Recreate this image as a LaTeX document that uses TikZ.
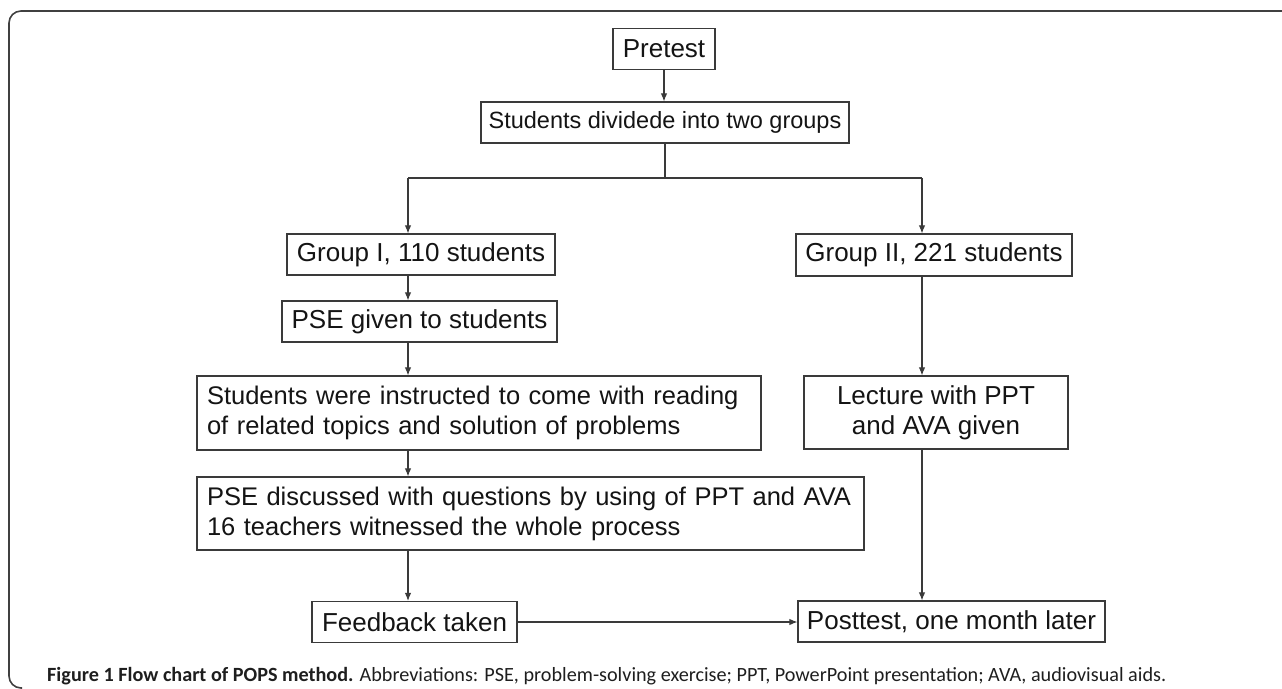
\documentclass[tikz,border=0pt]{standalone}
\usepackage{fontspec}
\setmainfont{Liberation Sans}
\newfontfamily\capfont{Carlito}
\usetikzlibrary{arrows.meta}
\definecolor{boxc}{HTML}{3A3A3A}
\definecolor{txt}{HTML}{141414}
\definecolor{framec}{HTML}{404040}
\definecolor{capc}{HTML}{1E1E1E}
\newcommand{\flowfont}{\fontsize{26}{30}\selectfont}
\newcommand{\flowfontlong}{\fontsize{25.5}{30}\selectfont}
\tikzset{
  box/.style={draw=boxc, line width=1.2pt, fill=white, inner sep=0pt,
    minimum height=41pt, font=\flowfont, text=txt},
  lbox/.style={box, inner xsep=10pt, align=left, font=\flowfontlong},
  arr/.style={draw=boxc, line width=1.1pt, -{Latex[length=8pt,width=6.5pt]}},
  ln/.style={draw=boxc, line width=1.1pt},
  framestyle/.style={draw=framec, line width=1.6pt}
}
\begin{document}
\begin{tikzpicture}[x=1pt,y=1pt]
\useasboundingbox (0,0) rectangle (1282,-688);
% outer frame
\draw[framestyle] (1282,-11) -- (21,-11) arc[start angle=90, end angle=180, radius=12] -- (9,-676) arc[start angle=180, end angle=270, radius=12] -- (22,-688);

% nodes
\node[box, minimum width=102pt] (pretest) at (664,-49) {Pretest};
\node[box, minimum width=368pt, font=\fontsize{23.5}{28}\selectfont] (divide) at (665,-122.5) {Students dividede into two groups};
\node[box, minimum width=268pt] (g1) at (421,-254.5) {Group I, 110 students};
\node[box, minimum width=276pt, minimum height=42pt] (g2) at (934,-255) {Group II, 221 students};
\node[box, minimum width=275pt] (pse) at (419.5,-321.5) {PSE given to students};
\node[lbox, text width=544pt, minimum height=74pt] (instr) at (479,-413)
  {\mbox{Students were instructed to come with reading}\\\mbox{of related topics and solution of problems}};
\node[box, align=center, minimum width=264pt, minimum height=73pt] (lect) at (936,-412.5)
  {Lecture with PPT\\and AVA given};
\node[lbox, text width=647pt, minimum height=73pt] (disc) at (530.5,-513.5)
  {\mbox{PSE discussed with questions by using of PPT and AVA}\\\mbox{16 teachers witnessed the whole process}};
\node[box, minimum width=205pt] (feed) at (414.5,-622) {Feedback taken};
\node[box, minimum width=307pt] (post) at (951.5,-621.5) {Posttest, one month later};

% helper coordinates
\coordinate (colL) at (408,0);
\coordinate (colR) at (922,0);
\coordinate (splitL) at (408,-178);
\coordinate (splitR) at (922,-178);

% connectors
\draw[arr] (pretest.south) -- (pretest.south |- divide.north);
\draw[ln] (divide.south) -- (divide.south |- splitL);
\draw[ln] (splitL) -- (splitR);
\draw[arr] (splitL) -- (splitL |- g1.north);
\draw[arr] (splitR) -- (splitR |- g2.north);
\draw[arr] (g1.south -| colL) -- (pse.north -| colL);
\draw[arr] (pse.south -| colL) -- (instr.north -| colL);
\draw[arr] (instr.south -| colL) -- (disc.north -| colL);
\draw[arr] (disc.south -| colL) -- (feed.north -| colL);
\draw[arr] (feed.east) -- (feed.east -| post.west);
\draw[arr] (g2.south -| colR) -- (lect.north -| colR);
\draw[arr] (lect.south -| colR) -- (post.north -| colR);

% caption
\node[anchor=base west, inner sep=0pt, text=capc, font=\capfont\fontsize{20.2}{24}\selectfont] (cap) at (47,-681)
  {\textbf{Figure 1 Flow chart of POPS method.} Abbreviations: PSE, problem-solving exercise; PPT, PowerPoint presentation; AVA, audiovisual aids.};
\end{tikzpicture}
\end{document}
